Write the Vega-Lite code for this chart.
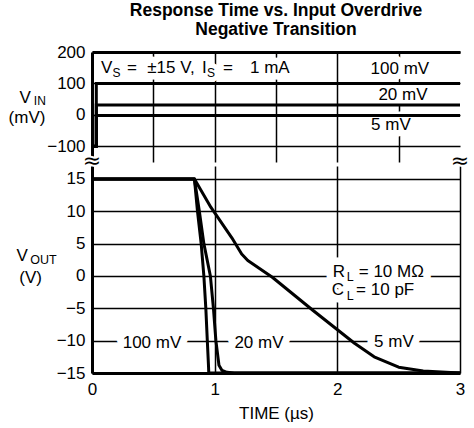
{
  "$schema": "https://vega.github.io/schema/vega-lite/v6.json",
  "background": "white",
  "padding": {"left": 8, "top": 2, "right": 4, "bottom": 2},
  "bounds": "flush",
  "title": {
    "text": ["Response Time vs. Input Overdrive", "Negative Transition"],
    "font": "Liberation Sans",
    "fontSize": 17.5,
    "fontWeight": "bold",
    "color": "black",
    "lineHeight": 18.5,
    "anchor": "middle",
    "frame": "group",
    "offset": 5
  },
  "datasets": {
    "vin": [
      {"s": "100", "i": 0, "t": 0, "v": -100},
      {"s": "100", "i": 1, "t": 0.035, "v": -100},
      {"s": "100", "i": 2, "t": 0.035, "v": 100},
      {"s": "100", "i": 3, "t": 3, "v": 100},
      {"s": "20", "i": 0, "t": 0, "v": -100},
      {"s": "20", "i": 1, "t": 0.035, "v": -100},
      {"s": "20", "i": 2, "t": 0.035, "v": 31},
      {"s": "20", "i": 3, "t": 3, "v": 31},
      {"s": "5", "i": 0, "t": 0, "v": -100},
      {"s": "5", "i": 1, "t": 0.035, "v": -100},
      {"s": "5", "i": 2, "t": 0.035, "v": -2},
      {"s": "5", "i": 3, "t": 3, "v": -2}
    ],
    "vout": [
      {"s": "100", "i": 0, "t": 0, "v": 15},
      {"s": "100", "i": 1, "t": 0.835, "v": 15},
      {"s": "100", "i": 2, "t": 0.86, "v": 10},
      {"s": "100", "i": 3, "t": 0.89, "v": 5},
      {"s": "100", "i": 4, "t": 0.912, "v": 0},
      {"s": "100", "i": 5, "t": 0.928, "v": -5},
      {"s": "100", "i": 6, "t": 0.94, "v": -10},
      {"s": "100", "i": 7, "t": 0.95, "v": -14},
      {"s": "100", "i": 8, "t": 0.952, "v": -15},
      {"s": "100", "i": 9, "t": 3, "v": -15},
      {"s": "20", "i": 0, "t": 0, "v": 15},
      {"s": "20", "i": 1, "t": 0.835, "v": 15},
      {"s": "20", "i": 2, "t": 0.875, "v": 10},
      {"s": "20", "i": 3, "t": 0.912, "v": 5},
      {"s": "20", "i": 4, "t": 0.965, "v": 0},
      {"s": "20", "i": 5, "t": 0.99, "v": -5},
      {"s": "20", "i": 6, "t": 1.01, "v": -10},
      {"s": "20", "i": 7, "t": 1.035, "v": -13.8},
      {"s": "20", "i": 8, "t": 1.06, "v": -14.6},
      {"s": "20", "i": 9, "t": 1.1, "v": -14.9},
      {"s": "20", "i": 10, "t": 1.16, "v": -15},
      {"s": "20", "i": 11, "t": 3, "v": -15},
      {"s": "5", "i": 0, "t": 0, "v": 15},
      {"s": "5", "i": 1, "t": 0.835, "v": 15},
      {"s": "5", "i": 2, "t": 0.97, "v": 10.6},
      {"s": "5", "i": 3, "t": 1.14, "v": 5.9},
      {"s": "5", "i": 4, "t": 1.22, "v": 3.4},
      {"s": "5", "i": 5, "t": 1.27, "v": 2.4},
      {"s": "5", "i": 6, "t": 1.47, "v": -0.2},
      {"s": "5", "i": 7, "t": 1.8, "v": -5.3},
      {"s": "5", "i": 8, "t": 2.14, "v": -10.4},
      {"s": "5", "i": 9, "t": 2.3, "v": -12.5},
      {"s": "5", "i": 10, "t": 2.5, "v": -14.1},
      {"s": "5", "i": 11, "t": 2.7, "v": -14.7},
      {"s": "5", "i": 12, "t": 3, "v": -15}
    ],
    "topMain": [
      {"x": 0.12, "y": 133, "t": "V"},
      {"x": 0.326, "y": 133, "t": "="},
      {"x": 0.644, "y": 133, "t": "±15 V,"},
      {"x": 0.916, "y": 133, "t": "I"},
      {"x": 1.108, "y": 133, "t": "="},
      {"x": 1.45, "y": 133, "t": "1 mA"},
      {"x": 2.51, "y": 130, "t": "100 mV"},
      {"x": 2.535, "y": 47, "t": "20 mV"},
      {"x": 2.437, "y": -48, "t": "5 mV"},
      {"x": -0.545, "y": 38, "t": "V"},
      {"x": -0.53, "y": -25, "t": "(mV)"}
    ],
    "topSub": [
      {"x": 0.2, "y": 119, "t": "S"},
      {"x": 0.97, "y": 119, "t": "S"},
      {"x": -0.425, "y": 32, "t": "IN"}
    ],
    "botMain": [
      {"x": -0.57, "y": 2.3, "t": "V"},
      {"x": -0.5, "y": -1.1, "t": "(V)"},
      {"x": 2.013, "y": -0.16, "t": "R"},
      {"x": 2.44, "y": -0.16, "t": "= 10 MΩ"},
      {"x": 2.005, "y": -2.94, "t": "C"},
      {"x": 2.39, "y": -2.94, "t": "= 10 pF"},
      {"x": 0.489, "y": -11.13, "t": "100 mV"},
      {"x": 1.361, "y": -11.13, "t": "20 mV"},
      {"x": 2.461, "y": -10.97, "t": "5 mV"}
    ],
    "botSub": [
      {"x": -0.395, "y": 1.9, "t": "OUT"},
      {"x": 2.105, "y": -0.77, "t": "L"},
      {"x": 2.105, "y": -3.7, "t": "L"}
    ],
    "breaks": [
      {"x": 0, "y": 17, "t": "≈"},
      {"x": 3, "y": 17, "t": "≈"}
    ]
  },
  "vconcat": [
    {
      "width": 368,
      "height": 110,
      "layer": [
        {
          "data": {"name": "topMain"},
          "mark": {"type": "text", "font": "Liberation Sans", "fontSize": 17, "align": "center", "baseline": "alphabetic", "color": "white", "stroke": "white", "strokeWidth": 13, "strokeJoin": "round"},
          "encoding": {
            "x": {"field": "x", "type": "quantitative", "scale": {"domain": [0, 3], "nice": false, "zero": false},
                  "axis": {"orient": "top", "labels": false, "title": null, "values": [0.5, 1, 1.5, 2, 2.5], "tickCount": 20, "grid": true, "domain": true}},
            "y": {"field": "y", "type": "quantitative", "scale": {"domain": [-150, 200], "nice": false, "zero": false},
                  "axis": {"values": [-100, 0, 100, 200], "tickCount": 20, "grid": true, "title": null, "labelPadding": 7, "labelOverlap": false}},
            "text": {"field": "t"}
          }
        },
        {
          "data": {"name": "topSub"},
          "mark": {"type": "text", "font": "Liberation Sans", "fontSize": 12, "align": "center", "baseline": "alphabetic", "color": "white", "stroke": "white", "strokeWidth": 10, "strokeJoin": "round"},
          "encoding": {
            "x": {"field": "x", "type": "quantitative"},
            "y": {"field": "y", "type": "quantitative"},
            "text": {"field": "t"}
          }
        },
        {
          "data": {"name": "vin"},
          "mark": {"type": "line", "color": "black", "strokeWidth": 3, "strokeCap": "square", "clip": true},
          "encoding": {
            "x": {"field": "t", "type": "quantitative"},
            "y": {"field": "v", "type": "quantitative"},
            "detail": {"field": "s"},
            "order": {"field": "i"}
          }
        },
        {
          "mark": {"type": "rule", "color": "black", "strokeWidth": 3},
          "encoding": {"x": {"datum": 3}}
        },
        {
          "data": {"name": "topMain"},
          "mark": {"type": "text", "font": "Liberation Sans", "fontSize": 17, "align": "center", "baseline": "alphabetic", "color": "black"},
          "encoding": {
            "x": {"field": "x", "type": "quantitative"},
            "y": {"field": "y", "type": "quantitative"},
            "text": {"field": "t"}
          }
        },
        {
          "data": {"name": "topSub"},
          "mark": {"type": "text", "font": "Liberation Sans", "fontSize": 12, "align": "center", "baseline": "alphabetic", "color": "black"},
          "encoding": {
            "x": {"field": "x", "type": "quantitative"},
            "y": {"field": "y", "type": "quantitative"},
            "text": {"field": "t"}
          }
        }
      ]
    },
    {
      "width": 368,
      "height": 207,
      "layer": [
        {
          "data": {"name": "botMain"},
          "mark": {"type": "text", "font": "Liberation Sans", "fontSize": 17, "align": "center", "baseline": "alphabetic", "color": "white", "stroke": "white", "strokeWidth": 15, "strokeJoin": "round"},
          "encoding": {
            "x": {"field": "x", "type": "quantitative", "scale": {"domain": [0, 3], "nice": false, "zero": false},
                  "axis": {"values": [0, 1, 2, 3], "tickCount": 20, "format": "d", "gridValues": [0.5, 1, 1.5, 2, 2.5], "grid": true, "title": "TIME (µs)", "labelPadding": 8, "titlePadding": 8, "labelFlush": false, "labelOverlap": false}},
            "y": {"field": "y", "type": "quantitative", "scale": {"domain": [-15, 17], "nice": false, "zero": false},
                  "axis": {"values": [-15, -10, -5, 0, 5, 10, 15], "tickCount": 20, "grid": true, "title": null, "labelPadding": 7, "labelOverlap": false}},
            "text": {"field": "t"}
          }
        },
        {
          "data": {"name": "botSub"},
          "mark": {"type": "text", "font": "Liberation Sans", "fontSize": 12.5, "align": "center", "baseline": "alphabetic", "color": "white", "stroke": "white", "strokeWidth": 10, "strokeJoin": "round"},
          "encoding": {
            "x": {"field": "x", "type": "quantitative"},
            "y": {"field": "y", "type": "quantitative"},
            "text": {"field": "t"}
          }
        },
        {
          "data": {"name": "breaks"},
          "mark": {"type": "text", "font": "DejaVu Sans", "fontSize": 22, "align": "center", "baseline": "middle", "dy": -5, "color": "black", "stroke": "white", "strokeWidth": 4},
          "encoding": {
            "x": {"field": "x", "type": "quantitative"},
            "y": {"field": "y", "type": "quantitative"},
            "text": {"field": "t"}
          }
        },
        {
          "data": {"name": "vout"},
          "mark": {"type": "line", "color": "black", "strokeWidth": 3, "strokeJoin": "round", "clip": true},
          "encoding": {
            "x": {"field": "t", "type": "quantitative"},
            "y": {"field": "v", "type": "quantitative"},
            "detail": {"field": "s"},
            "order": {"field": "i"}
          }
        },
        {
          "mark": {"type": "rule", "color": "black", "strokeWidth": 3},
          "encoding": {"x": {"datum": 3}}
        },
        {
          "data": {"name": "breaks"},
          "mark": {"type": "text", "font": "DejaVu Sans", "fontSize": 22, "align": "center", "baseline": "middle", "dy": -5, "color": "black"},
          "encoding": {
            "x": {"field": "x", "type": "quantitative"},
            "y": {"field": "y", "type": "quantitative"},
            "text": {"field": "t"}
          }
        },
        {
          "data": {"name": "botMain"},
          "mark": {"type": "text", "font": "Liberation Sans", "fontSize": 17, "align": "center", "baseline": "alphabetic", "color": "black"},
          "encoding": {
            "x": {"field": "x", "type": "quantitative"},
            "y": {"field": "y", "type": "quantitative"},
            "text": {"field": "t"}
          }
        },
        {
          "data": {"name": "botSub"},
          "mark": {"type": "text", "font": "Liberation Sans", "fontSize": 12.5, "align": "center", "baseline": "alphabetic", "color": "black"},
          "encoding": {
            "x": {"field": "x", "type": "quantitative"},
            "y": {"field": "y", "type": "quantitative"},
            "text": {"field": "t"}
          }
        }
      ]
    }
  ],
  "spacing": 4,
  "config": {
    "view": {"stroke": null},
    "axis": {
      "labelFont": "Liberation Sans",
      "labelFontSize": 17,
      "labelColor": "black",
      "labelOverlap": false,
      "domainColor": "black",
      "domainWidth": 3,
      "gridColor": "black",
      "gridWidth": 1.5,
      "gridOpacity": 1,
      "ticks": false,
      "titleFont": "Liberation Sans",
      "titleFontSize": 17,
      "titleFontWeight": "normal",
      "titleColor": "black"
    }
  }
}
